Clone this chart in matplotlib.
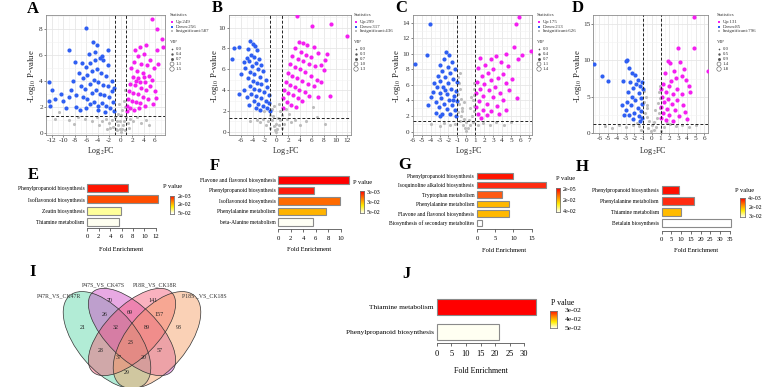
import numpy as np
import matplotlib
matplotlib.use("Agg")
import matplotlib.pyplot as plt
from matplotlib.patches import Ellipse
from matplotlib.colors import LinearSegmentedColormap
from matplotlib.ticker import MultipleLocator

W, H = 777, 387

# volcano points (log2FC, -log10 P), a sample of each cloud
a_down = [(-6.1, 8.1), (-4.9, 7.0), (-4.1, 6.8), (-9.1, 6.4), (-2.2, 6.4), (-5.6, 6.1), (-4.5, 6.2),
          (-3.2, 5.9), (-12.6, 3.9), (-12.0, 3.3), (-12.5, 2.5), (-12.3, 2.1), (-11.5, 2.6), (-10.0, 2.5),
          (-8.6, 3.3), (-9.1, 2.8), (-7.8, 2.9), (-7.1, 1.8), (-9.5, 1.9), (-8.0, 5.5), (-6.8, 5.4),
          (-6.1, 5.1), (-5.4, 5.4), (-4.4, 5.6), (-3.6, 5.8), (-3.0, 5.6), (-2.3, 5.2), (-7.3, 4.6),
          (-6.5, 4.2), (-5.8, 4.5), (-5.0, 4.8), (-4.2, 4.9), (-3.4, 4.6), (-2.6, 4.4), (-1.6, 4.0),
          (-1.2, 3.5), (-7.0, 3.6), (-6.2, 3.4), (-5.4, 3.8), (-4.6, 4.1), (-3.9, 3.9), (-3.1, 3.7),
          (-2.3, 3.6), (-1.5, 3.2), (-6.6, 2.8), (-5.8, 2.6), (-5.0, 3.1), (-4.3, 3.3), (-3.6, 3.0),
          (-2.9, 2.9), (-2.1, 2.8), (-1.4, 2.4), (-5.3, 2.2), (-4.6, 2.4), (-3.9, 2.1), (-3.2, 2.3),
          (-2.5, 2.1), (-1.8, 1.9), (-1.2, 1.7), (-4.0, 1.8), (-2.8, 1.6), (-6.0, 1.9), (-7.8, 2.0),
          (-8.3, 4.0), (-10.5, 3.0)]
a_up = [(5.5, 8.8), (6.3, 8.0), (7.3, 7.2), (7.35, 6.6), (6.3, 6.4), (4.4, 6.8), (3.4, 6.6), (2.5, 6.4),
        (5.1, 5.6), (4.0, 6.1), (3.0, 5.9), (4.6, 5.2), (5.8, 5.0), (6.5, 5.3), (3.6, 5.3), (2.4, 5.5),
        (1.8, 5.0), (2.8, 4.8), (3.9, 4.6), (4.9, 4.4), (5.5, 4.1), (2.1, 4.3), (3.1, 4.2), (4.2, 3.9),
        (5.2, 3.6), (1.6, 3.8), (2.5, 3.7), (3.5, 3.5), (4.5, 3.3), (6.0, 3.2), (1.4, 3.2), (2.1, 3.1),
        (3.0, 3.0), (3.9, 2.8), (4.8, 2.6), (1.3, 2.6), (2.0, 2.5), (2.7, 2.4), (3.4, 2.3), (4.2, 2.1),
        (1.1, 2.1), (1.7, 1.9), (2.4, 1.8), (1.05, 1.7), (3.2, 1.9), (5.6, 2.2), (6.2, 2.7), (4.0, 4.3),
        (3.3, 3.9), (2.7, 4.0)]
a_ns = [(-1.0, 1.2), (-0.7, 0.9), (-0.4, 0.6), (-0.2, 0.3), (0.0, 0.1), (0.2, 0.3), (0.4, 0.6), (0.6, 0.9),
        (0.9, 1.2), (-0.5, 1.5), (0.3, 1.8), (0.5, 2.5), (0.8, 3.3), (0.7, 2.0), (-0.3, 2.2), (-1.5, 1.0),
        (-2.0, 0.8), (-2.6, 1.1), (-3.2, 0.9), (-1.3, 0.5), (-0.9, 0.3), (-1.8, 0.4), (1.3, 0.8), (1.7, 1.1),
        (1.5, 0.4), (2.2, 0.9), (2.8, 1.2), (3.5, 0.8), (4.5, 1.0), (-4.2, 1.2), (-5.0, 0.9), (-6.3, 1.1),
        (-7.5, 1.2), (-9.0, 1.0), (-10.8, 1.6), (-11.5, 1.1), (-3.7, 0.6), (-2.4, 0.3), (-0.1, 0.9),
        (0.1, 1.4), (-0.6, 0.2), (0.7, 0.2), (5.0, 0.6), (-8.2, 0.7)]

b_down = [(-7.2, 8.0), (-6.2, 8.1), (-7.5, 7.0), (-5.4, 6.7), (-6.2, 3.6), (-4.4, 8.7), (-4.0, 8.4),
          (-3.6, 8.2), (-4.8, 7.9), (-3.2, 7.8), (-4.3, 7.4), (-3.8, 7.2), (-5.0, 7.1), (-2.9, 7.0),
          (-4.6, 6.8), (-3.5, 6.6), (-2.5, 6.4), (-4.1, 6.3), (-5.2, 6.1), (-3.1, 6.0), (-2.2, 5.8),
          (-4.4, 5.7), (-3.7, 5.5), (-2.8, 5.3), (-1.8, 5.0), (-4.8, 5.2), (-4.0, 4.9), (-3.3, 4.7),
          (-2.5, 4.6), (-1.5, 4.3), (-4.5, 4.4), (-3.7, 4.1), (-2.9, 4.0), (-2.1, 3.8), (-1.3, 3.5),
          (-4.2, 3.6), (-3.4, 3.4), (-2.6, 3.2), (-1.8, 3.0), (-1.2, 2.8), (-3.8, 3.0), (-3.0, 2.7),
          (-2.2, 2.5), (-1.5, 2.3), (-2.7, 2.1), (-5.5, 4.0), (-5.0, 3.3), (-4.6, 2.6), (-3.5, 2.3),
          (-6.0, 5.5), (-1.1, 2.0)]
b_up = [(3.5, 11.1), (6.0, 10.1), (9.2, 10.3), (12.0, 9.2), (8.2, 6.9), (8.0, 5.9), (7.5, 4.8), (9.0, 3.4),
        (7.1, 3.3), (8.5, 7.5), (3.8, 8.6), (4.5, 8.5), (5.2, 8.3), (6.3, 8.1), (7.0, 7.6), (3.2, 8.0),
        (4.1, 7.7), (5.0, 7.4), (5.8, 7.2), (2.7, 7.3), (3.6, 7.0), (4.5, 6.8), (5.5, 6.5), (6.5, 6.3),
        (2.3, 6.5), (3.1, 6.2), (4.0, 6.0), (4.9, 5.7), (5.9, 5.4), (1.9, 5.6), (2.7, 5.4), (3.5, 5.2),
        (4.4, 4.9), (5.3, 4.6), (6.4, 4.4), (1.6, 4.8), (2.3, 4.5), (3.1, 4.3), (3.9, 4.0), (4.8, 3.8),
        (1.3, 4.0), (2.0, 3.7), (2.8, 3.5), (3.6, 3.2), (4.3, 3.0), (1.2, 3.2), (1.8, 2.9), (2.5, 2.6),
        (3.3, 2.4), (1.1, 2.3), (5.6, 3.4), (6.8, 5.0), (7.6, 6.4)]
b_ns = [(-1.0, 1.6), (-0.7, 1.1), (-0.4, 0.6), (-0.2, 0.2), (0.0, 0.0), (0.2, 0.3), (0.4, 0.7), (0.7, 1.1),
        (0.9, 1.6), (-0.8, 2.2), (0.6, 2.0), (-0.5, 1.5), (0.3, 1.3), (-1.4, 1.0), (-1.8, 0.7), (-2.3, 1.2),
        (-2.8, 0.9), (-3.3, 1.1), (1.3, 0.8), (1.8, 1.2), (2.4, 0.9), (3.1, 1.1), (4.0, 0.7), (5.0, 1.0),
        (6.2, 2.4), (8.2, 0.8), (6.9, 1.4), (-4.5, 1.0), (-1.1, 0.4), (1.0, 0.4), (-0.1, 0.8), (-1.6, 2.3),
        (1.6, 2.2), (-2.0, 2.0), (2.1, 1.7), (-0.3, 2.5), (0.4, 2.7)]

c_down = [(-4.1, 13.8), (-4.4, 9.9), (-5.7, 8.7), (-2.3, 10.2), (-1.9, 9.8), (-2.5, 9.4), (-1.6, 9.0),
          (-3.0, 8.6), (-2.1, 8.3), (-1.3, 8.1), (-2.7, 7.8), (-1.8, 7.5), (-3.2, 7.2), (-2.4, 7.0),
          (-1.5, 6.8), (-1.1, 6.4), (-2.9, 6.5), (-2.0, 6.2), (-3.3, 5.8), (-2.6, 5.7), (-1.7, 5.5),
          (-1.2, 5.2), (-3.7, 5.1), (-3.0, 5.0), (-2.2, 4.8), (-1.4, 4.6), (-2.8, 4.3), (-1.9, 4.1),
          (-1.1, 3.9), (-3.4, 3.8), (-2.5, 3.6), (-1.6, 3.4), (-3.1, 3.1), (-2.2, 2.9), (-1.3, 2.8),
          (-3.4, 2.4), (-2.7, 2.3), (-1.8, 2.2), (-1.2, 2.0), (-3.9, 4.5), (-4.3, 3.4), (-2.4, 5.3),
          (-1.5, 4.0), (-2.9, 2.0), (-3.6, 6.2)]
c_up = [(5.9, 14.7), (5.6, 13.9), (7.2, 10.4), (6.2, 9.8), (5.8, 9.3), (5.7, 4.3), (5.3, 10.9), (4.4, 10.0),
        (3.3, 9.7), (2.7, 9.3), (1.5, 9.5), (3.9, 9.0), (2.1, 8.6), (4.7, 8.4), (1.3, 8.2), (3.0, 8.0),
        (2.4, 7.6), (4.1, 7.4), (1.7, 7.2), (3.5, 6.9), (5.1, 6.8), (2.8, 6.6), (1.2, 6.4), (2.0, 6.1),
        (4.4, 6.2), (3.2, 5.8), (1.5, 5.5), (2.5, 5.3), (3.8, 5.0), (4.8, 5.4), (1.1, 4.9), (1.9, 4.6),
        (3.0, 4.4), (4.1, 4.0), (1.4, 3.9), (2.3, 3.6), (3.4, 3.3), (1.1, 3.1), (1.9, 2.8), (2.8, 2.6),
        (4.4, 2.8), (1.3, 2.2), (2.3, 2.1), (3.6, 2.3), (1.6, 1.8)]
c_ns = [(-0.9, 7.0), (-0.8, 6.2), (-0.7, 5.5), (-0.9, 4.8), (-0.6, 4.2), (-0.8, 3.6), (-0.5, 3.0),
        (-0.9, 2.5), (-0.6, 2.0), (-0.3, 1.6), (0.0, 1.2), (0.3, 1.5), (0.6, 2.0), (0.8, 2.6), (0.9, 3.3),
        (0.7, 4.0), (0.9, 4.7), (0.8, 5.5), (0.9, 6.2), (-0.4, 0.8), (-0.2, 0.4), (0.0, 0.1), (0.2, 0.5),
        (0.4, 0.9), (0.7, 1.2), (-0.7, 1.3), (-1.3, 1.0), (-1.8, 0.8), (-2.5, 1.1), (-3.0, 0.7), (-4.0, 1.0),
        (1.3, 0.9), (1.9, 1.1), (2.6, 0.8), (3.3, 1.2), (4.2, 0.9), (5.0, 1.2), (-0.5, 2.6), (0.4, 3.0),
        (-0.3, 3.8), (0.5, 4.5), (-0.7, 7.5)]

d_down = [(-6.6, 9.5), (-5.7, 7.8), (-5.0, 7.2), (-3.3, 7.2), (-3.4, 3.85), (-3.0, 9.9), (-2.8, 10.1),
          (-2.6, 9.0), (-2.3, 8.2), (-1.9, 8.0), (-1.6, 7.3), (-1.1, 7.0), (-2.5, 7.0), (-1.3, 6.5),
          (-2.1, 6.2), (-1.0, 6.0), (-2.7, 5.7), (-1.5, 5.5), (-2.3, 5.0), (-1.2, 4.8), (-1.9, 4.5),
          (-2.8, 4.3), (-1.1, 4.0), (-2.4, 3.8), (-1.6, 3.5), (-2.9, 3.2), (-1.2, 3.0), (-2.0, 2.8),
          (-2.6, 2.5), (-1.5, 2.3), (-1.1, 2.0), (-3.2, 2.5), (-2.2, 1.9), (-1.8, 6.7), (-1.4, 1.7)]
d_up = [(4.8, 15.9), (3.0, 11.7), (4.8, 11.7), (6.4, 8.5), (1.8, 9.9), (2.1, 9.6), (3.2, 9.8), (3.7, 8.8),
        (2.5, 8.6), (1.5, 8.2), (3.4, 7.9), (2.8, 7.6), (3.9, 7.3), (2.2, 7.1), (1.3, 6.8), (4.3, 6.5),
        (2.0, 6.4), (1.1, 6.1), (2.9, 6.0), (1.6, 5.7), (3.5, 5.4), (2.4, 5.3), (4.4, 5.6), (1.2, 5.0),
        (1.8, 4.7), (2.9, 4.5), (1.4, 4.2), (2.3, 4.0), (3.6, 3.8), (1.1, 3.6), (1.7, 3.3), (2.7, 3.1),
        (1.3, 2.8), (2.0, 2.5), (3.1, 2.3), (1.1, 2.1), (1.6, 1.8), (2.4, 1.6), (4.0, 1.9), (3.8, 2.9)]
d_ns = [(-0.9, 5.8), (-0.7, 5.0), (-0.9, 4.2), (-0.6, 3.5), (-0.8, 2.8), (-0.5, 2.2), (-0.3, 1.6),
        (0.0, 1.1), (0.3, 1.5), (0.6, 2.0), (0.8, 2.7), (0.9, 3.4), (0.7, 4.1), (0.9, 4.8), (0.8, 5.6),
        (0.9, 6.4), (-0.4, 0.7), (-0.1, 0.3), (0.2, 0.4), (0.5, 0.8), (-1.5, 0.9), (-2.2, 1.1), (-3.0, 0.8),
        (-3.8, 1.1), (-4.5, 0.7), (1.4, 0.8), (2.1, 1.2), (2.8, 0.9), (3.5, 1.1), (4.3, 0.8), (-1.2, 0.4),
        (1.1, 0.3), (-0.5, 3.9), (0.4, 3.2), (-1.7, 1.4), (1.7, 1.4), (-5.3, 1.0), (5.0, 1.1)]

a_counts = [249, 256, 587]
b_counts = [299, 317, 436]
c_counts = [175, 213, 626]
d_counts = [131, 85, 796]
a_vip = ["0.0", "0.4", "0.7", "1.1", "1.5"]
b_vip = ["0.0", "0.3", "0.7", "1.0", "1.3"]
c_vip = ["0.0", "0.4", "0.7", "1.1", "1.4"]
d_vip = ["0.0", "0.5", "0.9", "1.4", "1.8"]

# KEGG enrichment
e_terms = ["Phenylpropanoid biosynthesis", "Isoflavonoid biosynthesis", "Zeatin biosynthesis",
           "Thiamine metabolism"]
e_fold = [7.1, 12.4, 5.9, 5.6]
e_p = ["2e-03", "2e-02", "5e-02"]
f_terms = ["Flavone and flavonol biosynthesis", "Phenylpropanoid biosynthesis", "Isoflavonoid biosynthesis",
           "Phenylalanine metabolism", "beta-Alanine metabolism"]
f_fold = [11.4, 5.7, 9.9, 7.6, 5.5]
f_p = ["3e-03", "3e-02", "5e-02"]
g_terms = ["Phenylpropanoid biosynthesis", "Isoquinoline alkaloid biosynthesis", "Tryptophan metabolism",
           "Phenylalanine metabolism", "Flavone and flavonol biosynthesis",
           "Biosynthesis of secondary metabolites"]
g_fold = [9.8, 18.9, 6.9, 8.8, 8.8, 1.5]
g_p = ["2e-05", "2e-02", "4e-02"]
h_terms = ["Phenylpropanoid biosynthesis", "Phenylalanine metabolism", "Thiamine metabolism",
           "Betalain biosynthesis"]
h_fold = [9.0, 16.4, 9.7, 35.4]
h_p = ["4e-03", "2e-02", "3e-02"]
j_terms = ["Thiamine metabolism", "Phenylpropanoid biosynthesis"]
j_fold = [34.0, 21.2]
j_p = ["3e-02", "4e-02", "5e-02"]

venn_sets = ["P47R_VS_CK47R", "P47S_VS_CK47S", "P18R_VS_CK18R", "P18S _VS_CK18S"]
# A, B, C, D, AB, BC, CD, ABC, BCD, ABCD, AC, BD, ACD, ABD, AD
venn_counts = [21, 70, 141, 93, 26, 69, 157, 32, 89, 23, 28, 57, 37, 20, 29]

UP, DOWN, NS = "#f41ff0", "#2f5ff2", "#bdbdbd"

plt.rcParams['font.family'] = ['Liberation Serif', 'DejaVu Serif']
plt.rcParams['mathtext.fontset'] = 'stix'
plt.rcParams['axes.unicode_minus'] = False

fig = plt.figure(figsize=(W / 100, H / 100), dpi=100)


def px_axes(l, t, r, b):
    return fig.add_axes([l / W, 1 - b / H, (r - l) / W, (b - t) / H])


def volcano(box, xlim, ylim, xstep, ystep, down, up, ns):
    ax = px_axes(*box)
    ax.set_xlim(*xlim)
    ax.set_ylim(*ylim)
    ax.xaxis.set_major_locator(MultipleLocator(xstep))
    ax.yaxis.set_major_locator(MultipleLocator(ystep))
    ax.xaxis.set_minor_locator(MultipleLocator(xstep / 2))
    ax.yaxis.set_minor_locator(MultipleLocator(ystep / 2))
    ax.grid(True, which='major', color='#e6e6e6', lw=0.6)
    ax.grid(True, which='minor', color='#f2f2f2', lw=0.4)
    ax.set_axisbelow(True)
    for s in ax.spines.values():
        s.set_color('#8c8c8c')
        s.set_linewidth(0.6)
    ax.tick_params(which='major', length=1.5, width=0.5, color='#555555', labelsize=5.2,
                   labelcolor='#333333', pad=0.8)
    ax.tick_params(which='minor', length=0)
    for pts, c, s in ((ns, NS, 5), (down, DOWN, 9), (up, UP, 9)):
        x, y = np.array(pts).T
        ax.scatter(x, y, s=s, c=c, lw=0, zorder=3)
    for v in (-1, 1):
        ax.axvline(v, color='#222222', lw=0.7, ls=(0, (3, 2)), zorder=4)
    ax.axhline(-np.log10(0.05), color='#222222', lw=0.7, ls=(0, (3, 2)), zorder=4)
    return ax


volcano((46, 15, 165, 135), (-13.05, 7.75), (-0.15, 9.08), 2, 2, a_down, a_up, a_ns)
volcano((229, 15, 351, 135), (-7.97, 12.6), (-0.3, 11.2), 2, 2, b_down, b_up, b_ns)
volcano((412.7, 15, 531.7, 135), (-6.0, 7.3), (-0.44, 15.0), 1, 2, c_down, c_up, c_ns)
volcano((593.3, 15, 708.3, 133), (-6.69, 6.46), (0.0, 16.24), 1, 5, d_down, d_up, d_ns)

cmap = LinearSegmentedColormap.from_list("pv", ['#ff0000', '#ff7a00', '#ffee00', '#ffffe6'])


def enrich(terms, fold, colors, ticks, x0, upx, first, last, spine, xmax, fs, bh, pad):
    n = len(terms)
    sp = (last - first) / (n - 1)
    ax = px_axes(x0, first - sp / 2, x0 + xmax * upx, spine)
    ax.set_xlim(0, xmax)
    ax.set_ylim((n - 1) + (spine - last) / sp, -0.5)
    ax.barh(range(n), fold, height=bh, color=colors, edgecolor='#8a8a8a', lw=0.8, clip_on=False)
    ax.set_yticks(range(n))
    ax.set_yticklabels(terms, fontsize=fs)
    ax.tick_params(axis='y', length=0, pad=2)
    for s in ('top', 'right', 'left'):
        ax.spines[s].set_visible(False)
    ax.spines['bottom'].set_bounds(ticks[0], ticks[-1])
    ax.spines['bottom'].set_color('#555555')
    ax.spines['bottom'].set_linewidth(0.6)
    ax.set_xticks(ticks)
    ax.tick_params(axis='x', length=2.5, width=0.6, color='#555555', labelsize=fs + 0.8, pad=pad)
    ax.patch.set_alpha(0)
    return ax


def pbar(l, t, r, b):
    cax = px_axes(l, t, r, b)
    cax.imshow(np.linspace(0, 1, 50)[:, None], aspect='auto', cmap=cmap)
    cax.set_xticks([])
    cax.set_yticks([])
    for s in cax.spines.values():
        s.set_color('#777777')
        s.set_linewidth(0.6)


enrich(e_terms, e_fold, ['#ff1500', '#ff4d00', '#ffff9a', '#fffff0'], range(0, 13, 2),
       87.3, 5.7, 187.7, 222.3, 228, 13, 4.0, 0.72, 2)
enrich(f_terms, f_fold, ['#ff0000', '#ff1a0a', '#ff6a00', '#ffb300', '#fffff4'], range(0, 11, 2),
       278.3, 6.24, 180, 222, 229.3, 11.6, 4.0, 0.7, 2)
enrich(g_terms, g_fold, ['#ff1400', '#ff2a10', '#ff5a12', '#ffb800', '#ffb800', '#ffffff'], range(0, 16, 5),
       477, 3.64, 175.7, 223, 229.3, 19.2, 4.0, 0.67, 2)
enrich(h_terms, h_fold, ['#ff1000', '#ff2b10', '#ffbb00', '#ffffff'], range(0, 36, 5),
       661.7, 1.95, 190.3, 223, 231, 35.6, 4.0, 0.7, 2)
enrich(j_terms, j_fold, ['#ff0000', '#fffff2'], range(0, 31, 5),
       436.7, 2.92, 307.3, 332.3, 342.7, 34.2, 5.2, 0.65, 3)

pbar(170, 196, 173.5, 213.5)
pbar(360, 190.7, 364.3, 212.7)
pbar(555.7, 188.3, 560, 212.3)
pbar(740, 198.3, 745, 216.7)
pbar(550, 310.7, 556.7, 328.3)

o = fig.add_axes([0, 0, 1, 1])
o.set_xlim(0, W)
o.set_ylim(H, 0)
o.axis('off')

# panel letters
for lab, x, y in (("A", 33, 9), ("B", 217, 8), ("C", 401, 8), ("D", 578, 8), ("E", 33, 175),
                  ("F", 215, 166), ("G", 405, 165), ("H", 582, 167), ("I", 33, 272), ("J", 406, 274)):
    o.text(x, y, lab, fontsize=12, fontweight='bold', ha='center', va='center')

# volcano axis titles
for xc, yx in ((101, 31.7), (286, 215), (469, 396.7), (653, 578.3)):
    o.text(xc, 151, "Log$_2$FC", fontsize=5.8, ha='center', va='center', color='#222222')
    o.text(yx, 76, "-Log$_{10}$ P-value", fontsize=6.2, rotation=90, ha='center', va='center',
           color='#222222')


def vlegend(x, counts, vip):
    fs = 3.5
    o.text(x - 2, 15.5, "Statistics", fontsize=fs, va='center', color='#333333')
    for i, (c, nm, k) in enumerate(zip((UP, DOWN, NS), ("Up", "Down", "Insignificant"), counts)):
        y = 22 + i * 4.5
        o.scatter([x], [y], s=4, c=c, lw=0, marker='s')
        o.text(x + 4, y, f"{nm}:{k}", fontsize=fs, va='center', color='#333333')
    o.text(x - 2, 42, "VIP", fontsize=fs, va='center', color='#333333')
    for i, v in enumerate(vip):
        y = 49 + i * 5
        if i == 0:
            o.scatter([x], [y], s=3, marker='+', c='#555555', lw=0.4)
        elif i < 3:
            o.scatter([x], [y], s=1.5 + 1.5 * i, c='#555555', lw=0)
        else:
            o.scatter([x], [y], s=2 + 2 * i, facecolors='none', edgecolors='#555555', lw=0.4)
        o.text(x + 4, y, v, fontsize=fs, va='center', color='#333333')


vlegend(172, a_counts, a_vip)
vlegend(356, b_counts, b_vip)
vlegend(539, c_counts, c_vip)
vlegend(719, d_counts, d_vip)

# enrichment titles and p-value keys
for xc, y, fs in ((121.5, 249.3, 4.7), (309.5, 249.3, 4.7), (504.3, 250, 4.7), (695.8, 250.7, 4.7),
                  (480.5, 370.7, 5.8)):
    o.text(xc, y, "Fold Enrichment", fontsize=fs, ha='center', va='center')
for (px_, py_, lx, ys, fs), labs in (((163, 186.7, 178, (196.7, 205, 213.7), 4.3), e_p),
                                     ((353, 182.7, 366.7, (192.3, 202.3, 212.7), 4.3), f_p),
                                     ((555.7, 179, 562.7, (189.3, 200, 211.7), 4.3), g_p),
                                     ((735, 190, 748.3, (199, 207.7, 216.7), 4.3), h_p),
                                     ((550.7, 302.7, 565, (310.7, 319.3, 328.3), 5.4), j_p)):
    o.text(px_, py_, "P value", fontsize=fs + 0.3, va='center')
    for y, t in zip(ys, labs):
        o.text(lx, y, t, fontsize=fs, va='center')

# Venn diagram (ellipses in pixel space)
venn_shapes = [((107, 340), 116, 60, 50, '#55d7a5'), ((132, 332), 112, 52, 45, '#cd41c3'),
               ((132, 332), 112, 52, 135, '#f55573'), ((157, 340), 116, 60, 130, '#f59b5f')]
for (c, w, h, ang, col) in venn_shapes:
    o.add_patch(Ellipse(c, w, h, angle=ang, facecolor=col, alpha=0.45, lw=0))
for (c, w, h, ang, col) in venn_shapes:
    o.add_patch(Ellipse(c, w, h, angle=ang, facecolor='none', edgecolor='#333333', lw=0.5))
venn_pos = [(82.7, 327.7), (110, 300), (153.3, 300), (178.3, 327.7), (105, 314.3), (130, 312.3),
            (159.3, 314.3), (115.3, 327.7), (146.7, 327.7), (130.7, 342), (100.7, 350.7), (159.3, 350.7),
            (118.3, 357.7), (143.3, 357.7), (126.7, 372.7)]
for (x, y), k in zip(venn_pos, venn_counts):
    o.text(x, y, str(k), fontsize=4.3, ha='center', va='center', color='#222222')
for (x, y), s in zip(((58.7, 296), (103.3, 285), (155, 285), (204, 296)), venn_sets):
    o.text(x, y, s, fontsize=4.2, ha='center', va='center', color='#333333')

fig.savefig("out.png", dpi=100)
